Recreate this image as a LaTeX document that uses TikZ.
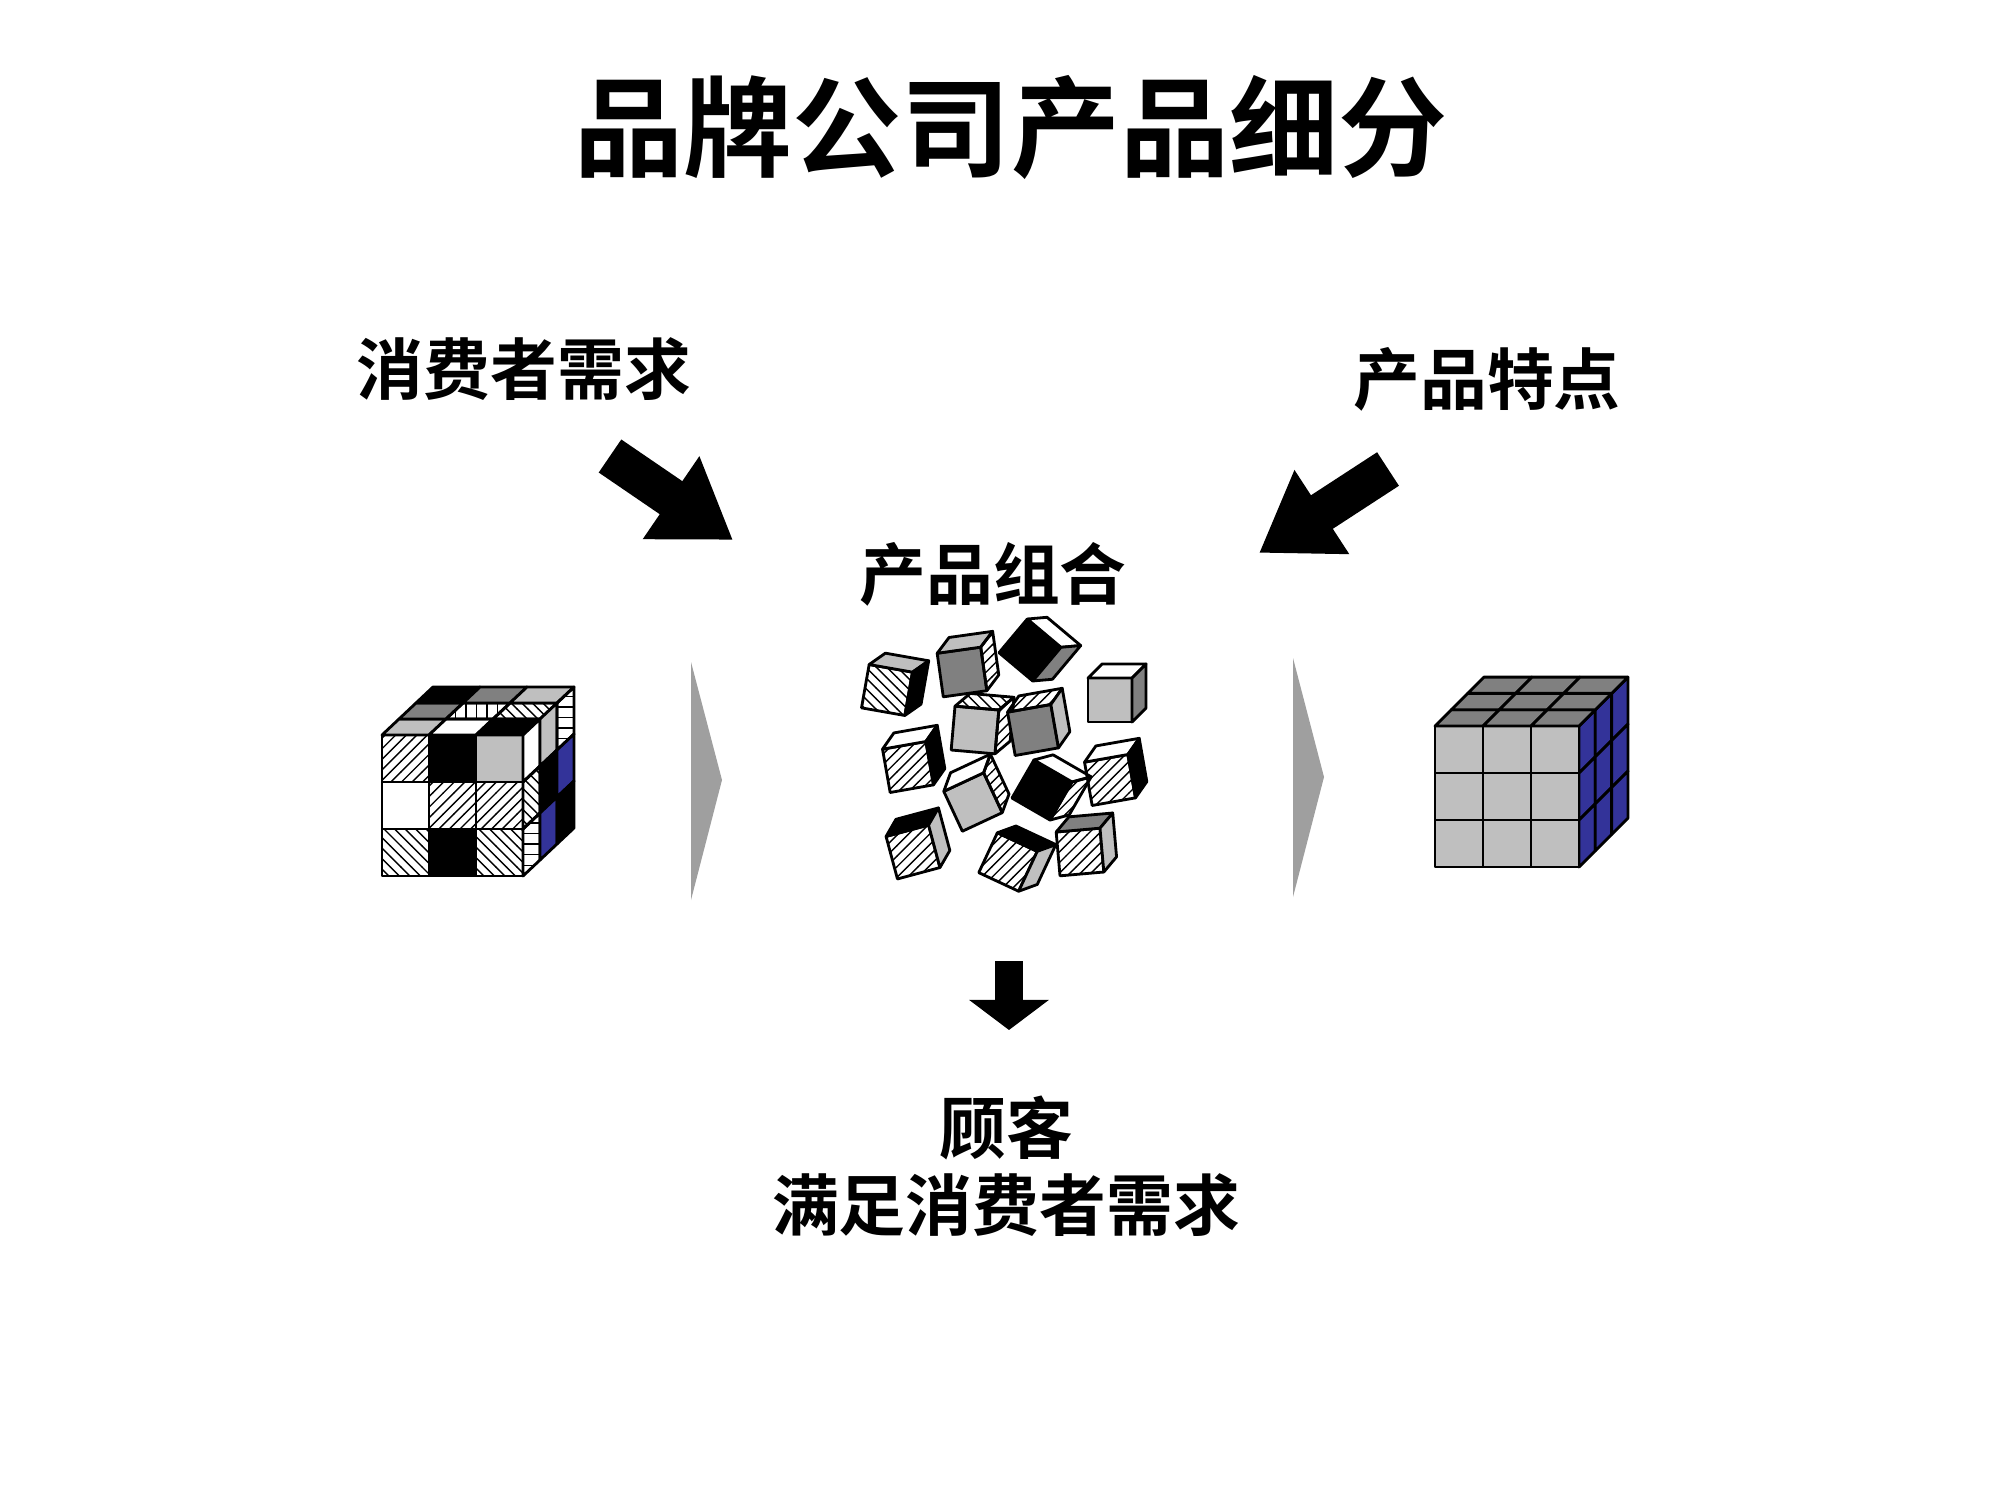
\documentclass[tikz,border=0pt]{standalone}
\usepackage{fontspec}
\setmainfont{Noto Sans CJK SC Bold}
\usetikzlibrary{patterns,arrows.meta}
\definecolor{cubeblue}{RGB}{51,51,153}
\tikzset{
  lg/.style={fill=gray!50},
  dg/.style={fill=gray},
  bk/.style={fill=black},
  wh/.style={fill=white},
  ne/.style={pattern=north east lines},
  nw/.style={pattern=north west lines},
  hl/.style={pattern=horizontal lines},
  vl/.style={pattern=vertical lines},
  bl/.style={fill=cubeblue},
  facet/.style={draw=black,line width=0.8pt,line join=round},
  txt/.style={font=\fontsize{19}{22}\selectfont,align=center},
  chevron/.style={fill=gray!75,draw=none}
}
% small loose cube: x, y, angle, front, top, side
\newcommand\loosecube[6]{%
  \begin{scope}[shift={(#1,#2)},rotate=#3]
    \path[facet,#4] (-22,-22) rectangle (22,22);
    \path[facet,#5] (-22,-22) -- (22,-22) -- (36,-36) -- (-8,-36) -- cycle;
    \path[facet,#6] (22,-22) -- (22,22) -- (36,8) -- (36,-36) -- cycle;
  \end{scope}}
\begin{document}
\begin{tikzpicture}[x=0.01cm,y=-0.01cm]
  \useasboundingbox (0,0) rectangle (2000,1500);

  \node (title) at (1011,128) {\fontsize{31}{36}\selectfont 品牌公司产品细分};
  \node (need) [txt] at (524,369) {消费者需求};
  \node (feat) [txt] at (1487,379) {产品特点};
  \node (mix)  [txt] at (993,574) {产品组合};
  \node (cust) [txt] at (1006,1166) {顾客\\满足消费者需求};

  % thick arrows
  \coordinate (la) at (610,456);
  \coordinate (lb) at (733,540);
  \coordinate (ra) at (1388,469);
  \coordinate (rb) at (1259,553);
  \draw[line width=0.4cm,-{Triangle[length=0.75cm,width=0.95cm]}] (la) -- (lb);
  \draw[line width=0.4cm,-{Triangle[length=0.75cm,width=0.95cm]}] (ra) -- (rb);
  \coordinate (da) at (1009,961);
  \coordinate (db) at (1009,1030);
  \draw[line width=0.28cm,-{Triangle[length=0.3cm,width=0.78cm]}] (da) -- (db);

  % chevrons
  \path[chevron] (691,662) -- (722,780) -- (691,900) -- cycle;
  \path[chevron] (1293,658) -- (1324,777) -- (1293,897) -- cycle;

  % mixed cube
  \foreach \i/\j/\s in {0/0/ne,1/0/bk,2/0/lg,0/1/wh,1/1/ne,2/1/ne,0/2/nw,1/2/bk,2/2/nw}
    \path[facet,\s] (382+47*\i,735+47*\j) rectangle ++(47,47);
  \foreach \i/\j/\s in {0/0/lg,1/0/wh,2/0/bk,0/1/dg,1/1/vl,2/1/nw,0/2/bk,1/2/dg,2/2/lg}
    \path[facet,\s] (382+47*\i+17*\j,735-16*\j) -- ++(47,0) -- ++(17,-16) -- ++(-47,0) -- cycle;
  \foreach \i/\j/\s in {0/0/wh,1/0/lg,2/0/hl,0/1/nw,1/1/bk,2/1/bl,0/2/hl,1/2/bl,2/2/bk}
    \path[facet,\s] (523+17*\i,735+47*\j-16*\i) -- ++(17,-16) -- ++(0,47) -- ++(-17,16) -- cycle;

  % loose cubes
  \loosecube{887}{690}{-10}{nw}{lg}{bk}
  \loosecube{962}{672}{8}{dg}{lg}{ne}
  \loosecube{1030}{650}{-40}{bk}{wh}{dg}
  \loosecube{1110}{700}{0}{lg}{wh}{dg}
  \loosecube{975}{730}{-5}{lg}{nw}{ne}
  \loosecube{1033}{730}{10}{dg}{ne}{lg}
  \loosecube{908}{767}{10}{ne}{wh}{bk}
  \loosecube{973}{802}{25}{lg}{wh}{ne}
  \loosecube{1042}{790}{-30}{bk}{wh}{ne}
  \loosecube{1110}{780}{10}{ne}{wh}{bk}
  \loosecube{913}{852}{15}{ne}{bk}{lg}
  \loosecube{1008}{862}{-25}{ne}{bk}{lg}
  \loosecube{1080}{852}{5}{ne}{dg}{lg}

  % solved cube
  \foreach \i in {0,1,2}
    \foreach \j in {0,1,2} {
      \path[facet,lg] (1435+48*\i,726+47*\j) rectangle ++(48,47);
      \path[facet,dg] (1435+48*\i+16.3*\j,726-16.3*\j) -- ++(48,0) -- ++(16.3,-16.3) -- ++(-48,0) -- cycle;
      \path[facet,bl] (1579+16.3*\i,726+47*\j-16.3*\i) -- ++(16.3,-16.3) -- ++(0,47) -- ++(-16.3,16.3) -- cycle;
    }
\end{tikzpicture}
\end{document}
